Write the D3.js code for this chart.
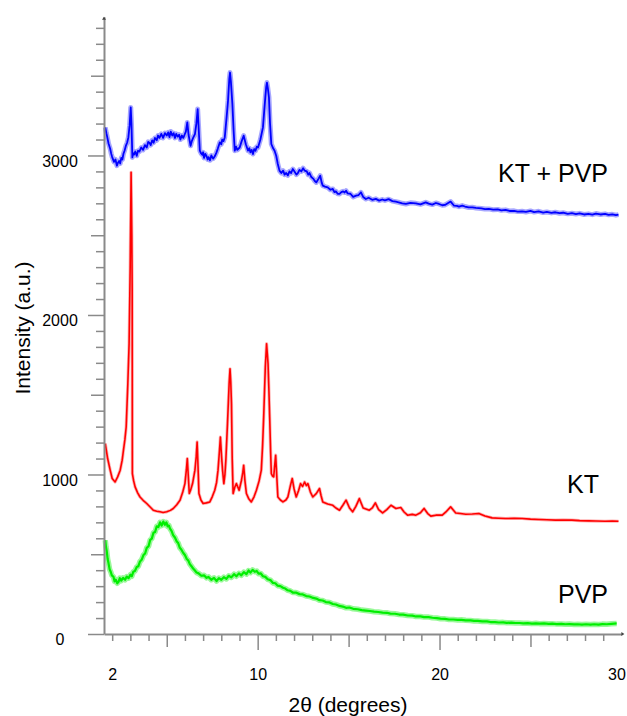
<!DOCTYPE html>
<html>
<head>
<meta charset="utf-8">
<script src="https://cdn.jsdelivr.net/npm/d3@7"></script>
<style>
  html, body { margin: 0; padding: 0; background: #fff; }
  svg { display: block; font-family: "Liberation Sans", Arial, sans-serif; }
</style>
</head>
<body>
<svg id="chart" width="627" height="716"></svg>
<script>
// ---- data (2θ in degrees, intensity in a.u.) ----
const ktpvp = [[1.62,3176],[1.68,3140],[1.72,3120],[1.8,3075],[1.89,3042],[1.95,3010],[2.0,2990],[2.1,2960],[2.18,2975],[2.26,2936],[2.32,2955],[2.38,2965],[2.44,2950],[2.5,2985],[2.56,2975],[2.62,3011],[2.68,3030],[2.75,3060],[2.82,3080],[2.89,3113],[2.96,3190],[3.02,3301],[3.06,3200],[3.11,2988],[3.15,3015],[3.2,3005],[3.27,3025],[3.35,2998],[3.42,3030],[3.5,3025],[3.6,3050],[3.7,3035],[3.8,3065],[3.9,3050],[3.98,3085],[4.05,3080],[4.12,3065],[4.2,3095],[4.28,3080],[4.35,3110],[4.45,3095],[4.52,3125],[4.6,3110],[4.7,3135],[4.8,3110],[4.9,3140],[5.0,3125],[5.08,3145],[5.15,3115],[5.22,3150],[5.3,3125],[5.38,3140],[5.45,3110],[5.52,3135],[5.6,3118],[5.68,3130],[5.75,3100],[5.83,3125],[5.91,3110],[5.98,3130],[6.05,3150],[6.13,3207],[6.2,3130],[6.31,3061],[6.38,3090],[6.45,3110],[6.55,3134],[6.63,3200],[6.70,3291],[6.76,3160],[6.82,3030],[6.88,3015],[6.95,3005],[7.0,3020],[7.05,2985],[7.12,3010],[7.19,2995],[7.25,2975],[7.3,2990],[7.38,2970],[7.45,3000],[7.55,2980],[7.64,2995],[7.72,3015],[7.8,3040],[7.92,3082],[8.0,3070],[8.05,3100],[8.12,3090],[8.19,3113],[8.3,3250],[8.37,3343],[8.44,3480],[8.48,3520],[8.53,3460],[8.61,3322],[8.68,3150],[8.74,3030],[8.81,3055],[8.88,3035],[9.01,3050],[9.12,3090],[9.23,3124],[9.35,3070],[9.41,3050],[9.47,3030],[9.54,3045],[9.6,3020],[9.67,3035],[9.74,3009],[9.81,3040],[9.88,3030],[9.95,3055],[10.02,3050],[10.15,3100],[10.29,3176],[10.36,3280],[10.42,3364],[10.47,3430],[10.51,3457],[10.56,3420],[10.62,3364],[10.68,3200],[10.75,3072],[10.85,3045],[10.93,3030],[11.02,2998],[11.1,2950],[11.2,2905],[11.3,2890],[11.4,2905],[11.48,2880],[11.57,2890],[11.66,2875],[11.75,2900],[11.84,2890],[11.93,2915],[12.05,2895],[12.13,2880],[12.21,2890],[12.3,2910],[12.4,2900],[12.5,2920],[12.58,2905],[12.7,2900],[12.78,2880],[12.85,2890],[12.95,2865],[13.05,2855],[13.14,2840],[13.22,2831],[13.35,2855],[13.44,2873],[13.52,2830],[13.58,2811],[13.7,2805],[13.85,2800],[14.0,2785],[14.13,2790],[14.22,2770],[14.3,2775],[14.4,2760],[14.5,2759],[14.6,2770],[14.7,2775],[14.78,2768],[14.86,2779],[14.95,2762],[15.1,2760],[15.25,2740],[15.41,2748],[15.55,2752],[15.68,2769],[15.8,2740],[15.95,2727],[16.1,2735],[16.3,2722],[16.5,2728],[16.68,2717],[16.85,2724],[17.0,2718],[17.2,2726],[17.41,2714],[17.6,2710],[17.8,2705],[17.95,2700],[18.15,2696],[18.4,2703],[18.7,2700],[18.95,2694],[19.24,2706],[19.4,2698],[19.6,2692],[19.8,2702],[19.97,2696],[20.15,2688],[20.3,2690],[20.45,2700],[20.61,2711],[20.8,2685],[20.95,2684],[21.07,2679],[21.25,2686],[21.4,2680],[21.6,2674],[21.8,2675],[22.0,2671],[22.3,2668],[22.5,2664],[22.71,2665],[22.95,2660],[23.2,2662],[23.4,2656],[23.63,2659],[23.85,2652],[24.1,2653],[24.3,2648],[24.54,2650],[24.75,2646],[25.0,2652],[25.2,2645],[25.45,2650],[25.7,2642],[25.9,2646],[26.15,2640],[26.37,2644],[26.6,2638],[26.8,2641],[27.05,2634],[27.28,2638],[27.5,2633],[27.7,2637],[27.95,2630],[28.19,2634],[28.4,2629],[28.6,2636],[28.85,2630],[29.1,2634],[29.3,2628],[29.5,2631],[29.7,2626],[29.84,2629]];

const kt = [[1.62,1194],[1.75,1100],[1.89,1027],[2.0,975],[2.16,953],[2.3,985],[2.44,1027],[2.55,1090],[2.62,1152],[2.7,1220],[2.77,1298],[2.86,1569],[2.93,1820],[2.99,2299],[3.04,2894],[3.08,2500],[3.10,2153],[3.11,1006],[3.18,960],[3.26,922],[3.4,885],[3.53,859],[3.7,838],[3.90,818],[4.1,795],[4.26,776],[4.45,770],[4.63,766],[4.8,762],[5.0,766],[5.2,775],[5.36,787],[5.55,810],[5.73,839],[5.88,890],[6.0,943],[6.08,1030],[6.13,1100],[6.18,1000],[6.24,881],[6.32,905],[6.42,943],[6.55,1027],[6.62,1110],[6.67,1204],[6.72,1050],[6.77,881],[6.88,840],[7.0,818],[7.18,822],[7.37,828],[7.5,860],[7.64,901],[7.74,950],[7.82,1027],[7.9,1150],[7.95,1235],[8.01,1120],[8.07,1027],[8.14,943],[8.2,1000],[8.25,1089],[8.34,1319],[8.43,1569],[8.48,1663],[8.52,1580],[8.56,1444],[8.6,1100],[8.65,881],[8.74,920],[8.83,943],[8.98,901],[9.11,964],[9.18,1010],[9.23,1058],[9.3,960],[9.38,881],[9.5,850],[9.65,828],[9.8,860],[9.93,901],[10.08,960],[10.20,1027],[10.27,1180],[10.33,1360],[10.42,1673],[10.49,1820],[10.57,1695],[10.62,1520],[10.66,1360],[10.71,1150],[10.75,1006],[10.82,990],[10.88,985],[10.94,1060],[10.99,1121],[11.05,990],[11.11,859],[11.25,840],[11.39,828],[11.55,840],[11.66,859],[11.8,930],[11.90,975],[12.0,910],[12.12,859],[12.25,900],[12.36,943],[12.47,925],[12.58,953],[12.68,930],[12.76,943],[12.9,890],[13.03,859],[13.22,880],[13.40,912],[13.48,870],[13.58,828],[13.85,815],[14.13,807],[14.3,790],[14.5,776],[14.7,810],[14.86,839],[15.05,790],[15.22,766],[15.4,800],[15.59,849],[15.8,790],[16.14,776],[16.3,790],[16.47,822],[16.65,780],[16.87,759],[17.1,780],[17.33,807],[17.6,787],[17.87,793],[18.05,765],[18.24,745],[18.5,750],[18.70,745],[18.95,760],[19.15,787],[19.35,755],[19.52,739],[19.8,745],[20.15,745],[20.35,765],[20.61,797],[20.89,759],[21.15,755],[21.44,751],[21.8,752],[22.16,755],[22.5,740],[22.89,728],[23.25,726],[23.63,724],[24.1,725],[24.54,724],[25.0,720],[25.45,718],[25.9,716],[26.37,714],[26.8,715],[27.28,714],[27.7,711],[28.19,709],[28.6,708],[29.1,707],[29.5,708],[29.84,707]];

const pvp = [[1.62,588],[1.66,545],[1.7,520],[1.75,470],[1.80,443],[1.86,405],[1.92,390],[1.98,368],[2.07,359],[2.13,330],[2.2,340],[2.28,318],[2.35,327],[2.42,350],[2.5,335],[2.6,352],[2.71,340],[2.8,360],[2.9,350],[3.0,372],[3.08,362],[3.16,390],[3.25,395],[3.35,420],[3.44,425],[3.53,455],[3.62,465],[3.72,495],[3.81,505],[3.9,540],[4.0,550],[4.09,590],[4.18,598],[4.27,635],[4.36,640],[4.45,675],[4.54,670],[4.63,700],[4.72,680],[4.81,705],[4.90,685],[4.98,700],[5.05,675],[5.12,680],[5.18,660],[5.27,645],[5.35,620],[5.45,605],[5.55,580],[5.63,570],[5.72,540],[5.8,530],[5.91,508],[6.0,495],[6.1,470],[6.18,462],[6.27,438],[6.36,425],[6.45,410],[6.55,398],[6.64,385],[6.75,380],[6.9,365],[7.05,368],[7.19,352],[7.3,358],[7.45,340],[7.6,352],[7.74,332],[7.87,350],[8.0,340],[8.14,356],[8.28,345],[8.41,365],[8.55,355],[8.7,375],[8.83,362],[8.97,380],[9.1,368],[9.24,388],[9.38,375],[9.5,398],[9.6,385],[9.72,402],[9.84,390],[9.95,395],[10.05,378],[10.17,380],[10.29,362],[10.42,358],[10.55,343],[10.7,338],[10.84,320],[10.97,318],[11.1,303],[11.25,300],[11.39,290],[11.52,285],[11.65,274],[11.8,270],[11.93,260],[12.1,260],[12.3,250],[12.48,248],[12.67,238],[12.85,235],[13.05,226],[13.22,222],[13.40,212],[13.57,210],[13.75,200],[13.95,198],[14.13,188],[14.3,185],[14.5,176],[14.68,172],[14.86,164],[15.04,166],[15.25,158],[15.5,155],[15.72,150],[15.95,147],[16.17,144],[16.4,140],[16.63,138],[16.87,134],[17.1,133],[17.3,128],[17.55,127],[17.78,122],[18.0,121],[18.25,116],[18.5,115],[18.70,110],[18.95,110],[19.15,106],[19.4,106],[19.61,102],[19.85,100],[20.05,96],[20.3,95],[20.52,91],[20.75,91],[21.0,88],[21.2,89],[21.44,86],[21.7,85],[21.9,82],[22.1,82],[22.35,79],[22.6,79],[22.8,75],[23.05,75],[23.26,72],[23.5,73],[23.7,70],[23.95,71],[24.18,69],[24.4,69],[24.6,67],[24.85,68],[25.08,65],[25.3,67],[25.5,65],[25.75,66],[26.0,64],[26.2,65],[26.45,62],[26.7,63],[26.92,61],[27.15,62],[27.4,60],[27.6,61],[27.83,59],[28.05,61],[28.3,59],[28.5,61],[28.74,59],[28.95,62],[29.2,61],[29.45,64],[29.74,66]];

const seriesNames = ["KT + PVP", "KT", "PVP"];
const seriesColors = ["#0000ff", "#ff0000", "#00ee00"];
const xTickLabels = [2, 10, 20, 30];
const yTickLabels = [0, 1000, 2000, 3000];
const xTitle = "2θ (degrees)";
const yTitle = "Intensity (a.u.)";

// ---- layout ----
const svg = d3.select("#chart");
const x = d3.scaleLinear().domain([1.55, 30]).range([104, 621.4]);
const y = d3.scaleLinear().domain([0, 3870]).range([634, 16.7]);
const axisColor = "#8a8a8a";
const lineStyle = [
  { halo: 5, haloOp: 0.35, w: 1.8 },
  { halo: 3.2, haloOp: 0.3, w: 1.6 },
  { halo: 5.5, haloOp: 0.4, w: 2.2 }
];

// ---- series ----
const line = d3.line().x(d => x(d[0])).y(d => y(d[1]));
const allSeries = [ktpvp, kt, pvp];
allSeries.forEach((s, i) => {
  svg.append("path").datum(s).attr("d", line)
    .attr("fill", "none").attr("stroke", seriesColors[i])
    .attr("stroke-opacity", lineStyle[i].haloOp).attr("stroke-width", lineStyle[i].halo)
    .attr("stroke-linejoin", "round");
  svg.append("path").datum(s).attr("d", line)
    .attr("fill", "none").attr("stroke", seriesColors[i])
    .attr("stroke-width", lineStyle[i].w).attr("stroke-linejoin", "round");
});

// ---- x axis ----
const xAxis = d3.axisBottom(x)
  .tickValues(d3.range(2, 31))
  .tickSizeOuter(0)
  .tickFormat(d => xTickLabels.includes(d) ? String(d) : "");
const gx = svg.append("g").attr("transform", "translate(0,634)").call(xAxis);
gx.select(".domain").attr("stroke", axisColor).attr("stroke-width", 2);
gx.selectAll(".tick line")
  .attr("stroke", axisColor).attr("stroke-width", 1.5)
  .attr("y2", d => d === 30 ? 0 : (d % 10 === 0 ? 16 : (d % 5 === 0 ? 13 : 7)));
gx.selectAll(".tick text")
  .attr("y", 35).attr("dy", "0.71em")
  .attr("font-size", 16).attr("fill", "#000")
  .attr("font-family", "Liberation Sans, Arial, sans-serif")
  .attr("dx", d => d === 30 ? -5 : 0);

// ---- y axis ----
const yAxis = d3.axisLeft(y)
  .tickValues(d3.range(0, 3801, 100))
  .tickSizeOuter(0)
  .tickFormat(d => yTickLabels.includes(d) ? String(d) : "");
const gy = svg.append("g").attr("transform", "translate(104,0)").call(yAxis);
gy.select(".domain").attr("stroke", axisColor).attr("stroke-width", 2);
gy.selectAll(".tick line")
  .attr("stroke", axisColor).attr("stroke-width", 1.5)
  .attr("x2", d => d % 1000 === 0 ? -16 : (d % 500 === 0 ? -13 : -8));
gy.selectAll(".tick text")
  .attr("x", -44).attr("dy", "0.66em")
  .attr("text-anchor", "middle")
  .attr("font-size", 16).attr("fill", "#000")
  .attr("font-family", "Liberation Sans, Arial, sans-serif");

// axis end arrows
svg.append("path")
  .attr("d", `M${x(30)},${y(0)-2}L${x(30)+3},${y(0)}L${x(30)},${y(0)+2}Z`)
  .attr("fill", "#444");
svg.append("path")
  .attr("d", `M${x(1.55)-2},${y(3870)+3}L${x(1.55)},${y(3870)}L${x(1.55)+2},${y(3870)+3}Z`)
  .attr("fill", "#444");

// ---- titles ----
svg.append("text").text(xTitle)
  .attr("x", 348).attr("y", 712).attr("text-anchor", "middle")
  .attr("font-size", 21).attr("fill", "#000");
svg.append("text").text(yTitle)
  .attr("transform", "translate(30,328) rotate(-90)")
  .attr("text-anchor", "middle")
  .attr("font-size", 21).attr("fill", "#000");

// ---- series labels ----
const labelPos = [[498, 182], [567, 493], [558, 603]];
seriesNames.forEach((n, i) => {
  svg.append("text").text(n)
    .attr("x", labelPos[i][0]).attr("y", labelPos[i][1])
    .attr("font-size", 25).attr("fill", "#000");
});
</script>
</body>
</html>
